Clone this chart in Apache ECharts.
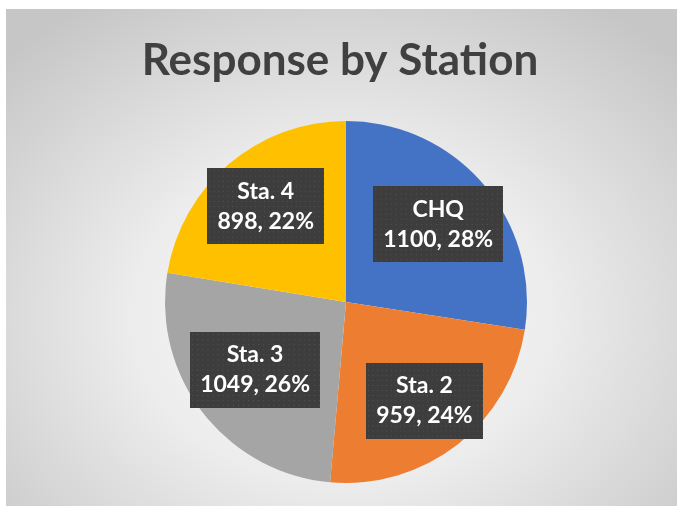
<!DOCTYPE html>
<html>
<head>
<meta charset="utf-8">
<script src="https://cdn.jsdelivr.net/npm/echarts@6/dist/echarts.min.js"></script>
<style>
  html, body { margin: 0; padding: 0; background: #fff; }
  .wrap { position: relative; width: 680px; height: 506px; overflow: hidden; }
  .bg {
    position: absolute; left: 6px; top: 9px; width: 671px; height: 497px;
    background: radial-gradient(ellipse 70% 75% at 50% 62%, #ffffff 0%, #ececec 45%, #c6c6c6 100%);
  }
  #chart { position: absolute; left: 0; top: 0; width: 680px; height: 506px; }
</style>
</head>
<body>
<div class="wrap">
  <div class="bg"></div>
  <div id="chart"></div>
</div>
<script>
// values
const stations = ['CHQ', 'Sta. 2', 'Sta. 3', 'Sta. 4']
const responses = [1100, 959, 1049, 898]
const colors = ['#4472C4', '#ED7D31', '#A5A5A5', '#FFC000']
// small nudges so the label boxes sit where Excel put them
const labelNudge = [[-2, 3], [2, 1], [7, -8], [0, -1]]

// dotted dark fill for the data label boxes
function dotFill () {
  let c = document.createElement('canvas')
  c.width = 128
  c.height = 75
  let ctx = c.getContext('2d')
  ctx.fillStyle = '#3d3d3d'
  ctx.fillRect(0, 0, c.width, c.height)
  ctx.fillStyle = '#545454'
  for (let y = 2; y < c.height; y += 5) {
    for (let x = 2; x < c.width; x += 5) {
      ctx.fillRect(x, y, 1, 1)
    }
  }
  return c
}

let pieData = stations.map((name, i) => ({
  name: name,
  value: responses[i],
  itemStyle: { color: colors[i] }
}))

let chart = echarts.init(document.getElementById('chart'))
let option = {
  animation: false,
  title: {
    text: 'Response by Station',
    left: 'center',
    top: 34,
    textStyle: {
      fontFamily: 'Lato',
      fontWeight: 'bold',
      fontSize: 44,
      color: '#404040'
    }
  },
  series: [
    {
      // the pie itself
      type: 'pie',
      center: [346, 302],
      radius: 181,
      startAngle: 90,
      clockwise: true,
      silent: true,
      label: { show: false },
      labelLine: { show: false },
      data: pieData
    },
    {
      // invisible wider ring that only carries the labels
      type: 'pie',
      center: [346, 302],
      radius: 242,
      startAngle: 90,
      clockwise: true,
      silent: true,
      percentPrecision: 0,
      itemStyle: { color: 'rgba(0,0,0,0)' },
      labelLine: { show: false },
      label: {
        show: true,
        position: 'inside',
        formatter: '{b}\n{c}, {d}%',
        fontFamily: 'Lato',
        fontWeight: 'bold',
        fontSize: 23,
        lineHeight: 30,
        color: '#ffffff',
        align: 'center',
        backgroundColor: { image: dotFill() },
        padding: [8, 10, 8, 10],
        shadowColor: 'rgba(0,0,0,0.55)',
        shadowBlur: 6,
        shadowOffsetX: 3,
        shadowOffsetY: 3
      },
      data: stations.map((name, i) => ({
        name: name,
        value: responses[i],
        label: { offset: labelNudge[i] }
      }))
    }
  ]
}
chart.setOption(option)
</script>
</body>
</html>
